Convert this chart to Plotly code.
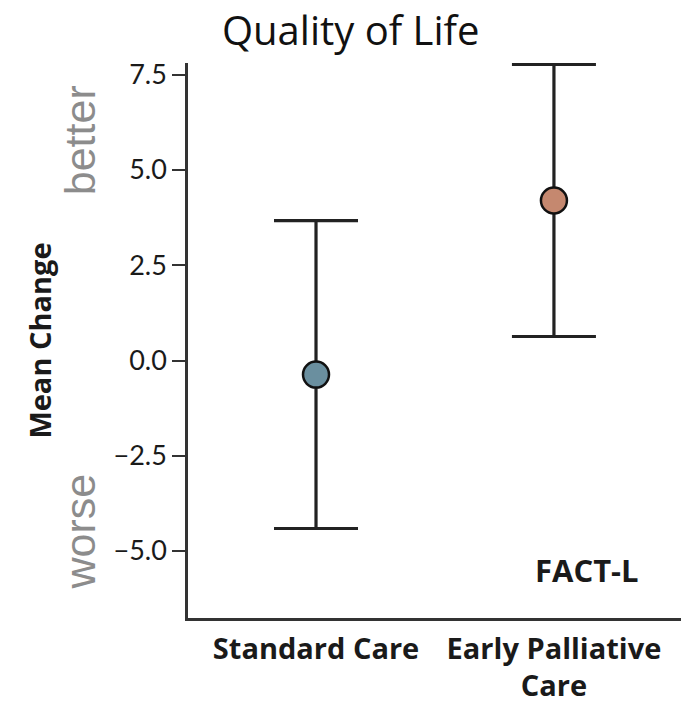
import plotly.graph_objects as go

categories = ["Standard Care", "Early Palliative<br>Care"]
x_pos = [0, 1]
means = [-0.37, 4.20]
upper = [3.67, 7.77]
lower = [-4.41, 0.63]
colors = ["#6A8F9F", "#C5886F"]

err_plus = [u - m for u, m in zip(upper, means)]
err_minus = [m - l for m, l in zip(means, lower)]

fig = go.Figure()
fig.add_trace(go.Scatter(
    x=x_pos, y=means, mode="markers",
    marker=dict(size=26, color=colors, line=dict(color="#111111", width=2.5)),
    error_y=dict(type="data", symmetric=False, array=err_plus, arrayminus=err_minus,
                 color="#222222", thickness=3.2, width=42),
    showlegend=False,
))

fig.update_layout(
    width=681, height=706,
    margin=dict(l=188, r=0, t=63, b=88),
    paper_bgcolor="white", plot_bgcolor="white",
    title=dict(text="Quality of Life", x=0.515, xanchor="center", y=0.9565, yanchor="middle",
               font=dict(family="Open Sans", size=40, color="#111111")),
    xaxis=dict(
        range=[-0.538, 1.534], tickmode="array", tickvals=x_pos, ticktext=categories,
        showline=True, linecolor="#333333", linewidth=2.5, showgrid=False, zeroline=False,
        ticks="", ticklabelstandoff=3,
        tickfont=dict(family="Open Sans", size=29, color="#1a1a1a", weight="bold"),
    ),
    yaxis=dict(
        range=[-6.76, 7.81], tickmode="array", tickvals=[-5, -2.5, 0, 2.5, 5, 7.5],
        ticktext=["\u22125.0", "\u22122.5", "0.0", "2.5", "5.0", "7.5"],
        showline=True, linecolor="#333333", linewidth=2.5, showgrid=False, zeroline=False,
        ticks="outside", ticklen=13, tickwidth=2, tickcolor="#333333",
        tickfont=dict(family="Lato", size=27, color="#1a1a1a"),
        title=dict(text="<b>Mean Change</b>", standoff=54,
                   font=dict(family="Open Sans", size=29, color="#1a1a1a")),
    ),
    annotations=[
        dict(text="better", xref="paper", yref="paper", x=-0.22, y=0.86,
             textangle=-90, showarrow=False, xanchor="center", yanchor="middle",
             font=dict(family="Liberation Sans", size=43, color="#8c8c8c")),
        dict(text="worse", xref="paper", yref="paper", x=-0.22, y=0.155,
             textangle=-90, showarrow=False, xanchor="center", yanchor="middle",
             font=dict(family="Liberation Sans", size=43, color="#8c8c8c")),
        dict(text="<b>FACT-L</b>", xref="paper", yref="paper", x=0.81, y=0.086,
             showarrow=False, xanchor="center", yanchor="middle",
             font=dict(family="Open Sans", size=31, color="#1a1a1a")),
    ],
)

fig.write_html("out.html")
